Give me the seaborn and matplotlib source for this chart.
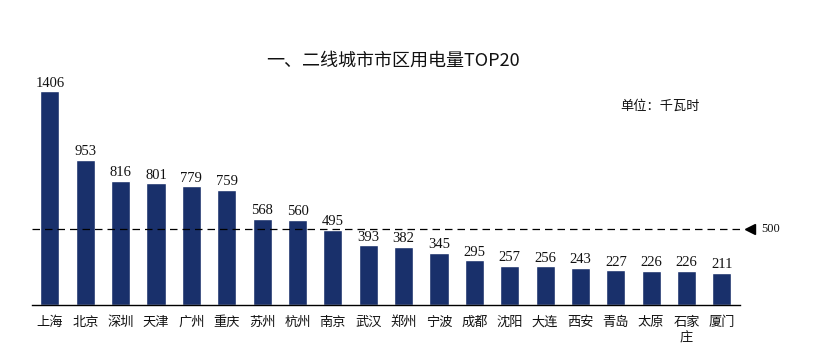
import matplotlib
matplotlib.use("Agg")
import matplotlib.pyplot as plt
import seaborn as sns
import pandas as pd

cities = ["上海", "北京", "深圳", "天津", "广州", "重庆", "苏州", "杭州", "南京", "武汉",
          "郑州", "宁波", "成都", "沈阳", "大连", "西安", "青岛", "太原", "石家\n庄", "厦门"]
values = [1406, 953, 816, 801, 779, 759, 568, 560, 495, 393,
          382, 345, 295, 257, 256, 243, 227, 226, 226, 211]
ref_value = 500
title = "一、二线城市市区用电量TOP20"
unit = "单位：千瓦时"

sns.set_theme(style="white")
plt.rcParams['font.family'] = ['Noto Sans CJK SC', 'DejaVu Sans']

df = pd.DataFrame({"city": cities, "value": values})
fig = plt.figure(figsize=(8.19, 3.56), dpi=100)
ax = fig.add_axes([0.0394, 0.1433, 0.8636, 0.6837])
sns.barplot(data=df, x="city", y="value", color="#19306B", width=0.54, ax=ax, saturation=1)
ax.set_xlim(-0.5, 19.5)
ax.set_ylim(0, 1600)
ax.set_xlabel("")
ax.set_ylabel("")
ax.set_yticks([])
for s in ["top", "right", "left"]:
    ax.spines[s].set_visible(False)
ax.spines["bottom"].set_color("black")
ax.spines["bottom"].set_linewidth(1.0)
ax.tick_params(axis="x", length=0, labelsize=9.5, pad=8, colors="#111111")
for lab in ax.get_xticklabels():
    lab.set_linespacing(1.25)

for i, v in enumerate(values):
    ax.text(i, v + 10, str(v), ha="center", va="bottom", fontsize=10.5,
            family="Liberation Serif", color="#111111")

ax.plot([-0.5, 19.6], [ref_value, ref_value], ls=(0, (6, 4)), color="black", lw=0.9, clip_on=False)
ax.plot([19.8], [ref_value], marker="<", color="black", markersize=7, clip_on=False)
ax.text(20.1, ref_value, str(ref_value), ha="left", va="center", fontsize=9,
        family="Liberation Serif", color="#111111")

fig.text(0.48, 0.83, title, ha="center", va="center", fontsize=13, color="#111111")
fig.text(0.757, 0.70, unit, ha="left", va="center", fontsize=9.5, color="#111111")

fig.savefig("out.png", dpi=100)
